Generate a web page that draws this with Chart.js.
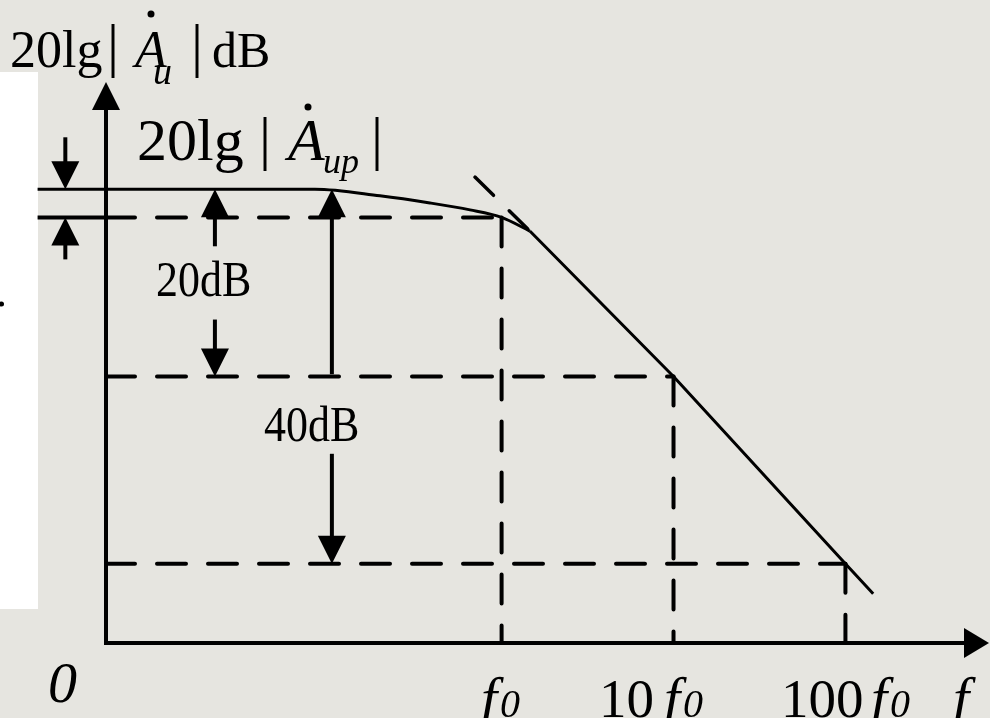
<!DOCTYPE html>
<html>
<head>
<meta charset="utf-8">
<title>低通滤波器幅频特性</title>
<script src="https://cdn.jsdelivr.net/npm/chart.js@4.4.1/dist/chart.umd.min.js"></script>
<style>
  html, body { margin: 0; padding: 0; background: #e6e5e0; overflow: hidden; }
  canvas { display: block; }
</style>
</head>
<body>
<canvas id="bode" width="990" height="718"></canvas>
<script>
// Frequency in units of f0, gain in dB relative to 20lg|Aup|
const curveFreq = [0.002, 0.082, 0.196, 0.383, 0.655, 1, 1.46];
const curveGain = [0, 0, -0.7, -1.46, -2.2, -3, -4.46];
const rolloffFreq = [1.46, 10, 100, 145];
const rolloffGain = [-4.46, -20, -40, -43.2];
const asymptoteFreq = [0.7, 1.46];
const asymptoteGain = [1.3, -4.46];
const markFreq = [1, 10, 100];
const markGain = [-3, -20, -40];
const tickPrefix = ['', '10', '100'];
const gainSteps = [3, 20, 40];

const X_MIN = 0.005, X_MAX = 684;
const Y_MIN = -48.46, Y_MAX = 11.46;

const BG = '#e6e5e0';
const INK = '#000';
const SERIF = '"Liberation Serif", "Times New Roman", serif';

// arrow columns, placed on the frequency axis
const stepArrowFreq = 0.0029;
const midArrowFreq = 0.0215;
const fullArrowFreq = 0.103;

const pts = (xs, ys) => xs.map((x, i) => ({ x, y: ys[i] }));

const solid = {
    borderColor: INK,
    pointRadius: 0,
    fill: false,
    clip: false,
    borderCapStyle: 'butt',
    borderJoinStyle: 'round'
};
const dashed = { ...solid, borderWidth: 4, borderDash: [29, 22], borderCapStyle: 'round' };

const datasets = [
    { ...solid, data: pts(curveFreq, curveGain), borderWidth: 3, cubicInterpolationMode: 'monotone' },
    { ...solid, data: pts(rolloffFreq, rolloffGain), borderWidth: 3 },
    { ...solid, data: pts(asymptoteFreq, asymptoteGain), borderWidth: 3.5, borderDash: [26, 22], borderCapStyle: 'round' },
    // -3 dB level runs solid left of the axis
    { ...solid, data: [{ x: curveFreq[0], y: markGain[0] }, { x: X_MIN, y: markGain[0] }], borderWidth: 4 }
];
markFreq.forEach((f, i) => {
    datasets.push({ ...dashed, data: [{ x: X_MIN, y: markGain[i] }, { x: f, y: markGain[i] }] });
    datasets.push({ ...dashed, data: [{ x: f, y: markGain[i] }, { x: f, y: Y_MIN }] });
});

function put(ctx, s, x, y, size, italic = false, sx = 1) {
    ctx.save();
    ctx.font = `${italic ? 'italic ' : ''}${size}px ${SERIF}`;
    ctx.textAlign = 'left';
    ctx.textBaseline = 'alphabetic';
    ctx.translate(x, y);
    ctx.scale(sx, 1);
    ctx.fillText(s, 0, 0);
    ctx.restore();
}

function dot(ctx, x, y, r) {
    ctx.beginPath();
    ctx.arc(x, y, r, 0, Math.PI * 2);
    ctx.fill();
}

// vertical arrow: shaft from tailY, head ending at tipY
function vArrow(ctx, x, tipY, tailY, head = 28, half = 14) {
    const dir = Math.sign(tipY - tailY);
    ctx.beginPath();
    ctx.moveTo(x, tailY);
    ctx.lineTo(x, tipY - dir * (head - 2));
    ctx.stroke();
    ctx.beginPath();
    ctx.moveTo(x, tipY);
    ctx.lineTo(x - half, tipY - dir * head);
    ctx.lineTo(x + half, tipY - dir * head);
    ctx.closePath();
    ctx.fill();
}

const backdrop = {
    id: 'backdrop',
    beforeDraw(chart) {
        const { ctx, width, height } = chart;
        ctx.save();
        ctx.fillStyle = BG;
        ctx.fillRect(0, 0, width, height);
        ctx.fillStyle = '#fff';
        ctx.fillRect(0, 72, 38, 537);
        ctx.fillStyle = INK;
        dot(ctx, 1.5, 304, 2.5);
        ctx.restore();
    }
};

const annotations = {
    id: 'annotations',
    afterDatasetsDraw(chart) {
        const { ctx, chartArea: { left, top, right, bottom } } = chart;
        const xs = chart.scales.x, ys = chart.scales.y;
        ctx.save();
        ctx.strokeStyle = INK;
        ctx.fillStyle = INK;
        ctx.lineWidth = 4;
        ctx.lineCap = 'butt';

        // axes with arrow heads
        ctx.beginPath();
        ctx.moveTo(left, bottom + 2);
        ctx.lineTo(left, top + 26);
        ctx.moveTo(left - 2, bottom);
        ctx.lineTo(right - 23, bottom);
        ctx.stroke();
        ctx.beginPath();
        ctx.moveTo(left, top);
        ctx.lineTo(left - 14, top + 28);
        ctx.lineTo(left + 14, top + 28);
        ctx.closePath();
        ctx.fill();
        ctx.beginPath();
        ctx.moveTo(right, bottom);
        ctx.lineTo(right - 25, bottom - 15);
        ctx.lineTo(right - 25, bottom + 15);
        ctx.closePath();
        ctx.fill();

        const y0 = ys.getPixelForValue(0);
        const y3 = ys.getPixelForValue(-gainSteps[0]);
        const y20 = ys.getPixelForValue(-gainSteps[1]);
        const y40 = ys.getPixelForValue(-gainSteps[2]);

        // 3 dB step marks
        const xStep = xs.getPixelForValue(stepArrowFreq);
        vArrow(ctx, xStep, y0, y0 - 52);
        vArrow(ctx, xStep, y3, y3 + 42);

        // 20 dB span
        const xMid = xs.getPixelForValue(midArrowFreq);
        vArrow(ctx, xMid, y0, y0 + 57);
        vArrow(ctx, xMid, y20, y20 - 57);
        put(ctx, gainSteps[1] + 'dB', xMid - 59, (y0 + y20) / 2 + 13, 50, false, 0.88);

        // 40 dB span
        const xFull = xs.getPixelForValue(fullArrowFreq);
        vArrow(ctx, xFull, y0, y0 + 185);
        vArrow(ctx, xFull, y40, y40 - 110);
        put(ctx, gainSteps[2] + 'dB', xFull - 68, (y0 + y40) / 2 + 64, 50, false, 0.88);

        // axis title
        put(ctx, '20lg', 10, 67, 52);
        put(ctx, '|', 107, 65, 60);
        put(ctx, 'A', 135, 67, 52, true);
        dot(ctx, 151, 14, 3.5);
        put(ctx, 'u', 153, 84, 38, true);
        put(ctx, '|', 191, 65, 60);
        put(ctx, 'dB', 212, 67, 50);

        // passband level
        put(ctx, '20lg', 137, 160, 60);
        put(ctx, '|', 259, 158, 60);
        put(ctx, 'A', 288, 160, 60, true);
        dot(ctx, 308, 107, 3.5);
        put(ctx, 'up', 323, 173, 36, true);
        put(ctx, '|', 371, 158, 60);

        // frequency labels
        const labelX = [[481, 481], [599, 664], [781, 871]];
        tickPrefix.forEach((p, i) => {
            const [px, fx] = labelX[i];
            if (p) put(ctx, p, px, 717, 55);
            put(ctx, 'f', fx, 717, 58, true);
            put(ctx, '0', fx + 19, 717, 40, true);
        });
        put(ctx, 'f', 953, 717, 58, true);
        put(ctx, '0', 48, 702, 58, true);

        ctx.restore();
    }
};

new Chart(document.getElementById('bode'), {
    type: 'line',
    data: { datasets },
    options: {
        responsive: false,
        animation: false,
        devicePixelRatio: 1,
        events: [],
        layout: { padding: { left: 106, top: 82, right: 1, bottom: 75 } },
        plugins: { legend: { display: false }, tooltip: { enabled: false } },
        scales: {
            x: { type: 'logarithmic', min: X_MIN, max: X_MAX, display: false },
            y: { type: 'linear', min: Y_MIN, max: Y_MAX, display: false }
        }
    },
    plugins: [backdrop, annotations]
});
</script>
</body>
</html>
